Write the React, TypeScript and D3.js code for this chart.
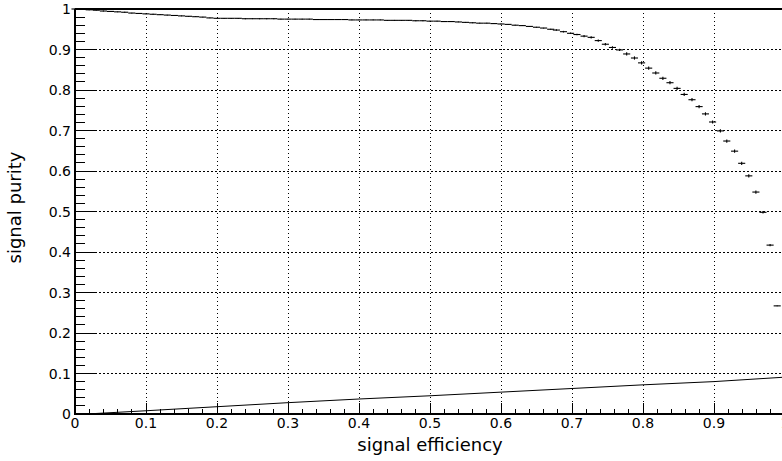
import React from 'react';
import * as d3 from 'd3';

// upper curve: purity per efficiency bin (markers with x error bars)
const UPPER_EFF = [
  0.00, 0.01, 0.02, 0.03, 0.04, 0.05, 0.06, 0.07, 0.08, 0.09,
  0.10, 0.11, 0.12, 0.13, 0.14, 0.15, 0.16, 0.17, 0.18, 0.19,
  0.20, 0.21, 0.22, 0.23, 0.24, 0.25, 0.26, 0.27, 0.28, 0.29,
  0.30, 0.31, 0.32, 0.33, 0.34, 0.35, 0.36, 0.37, 0.38, 0.39,
  0.40, 0.41, 0.42, 0.43, 0.44, 0.45, 0.46, 0.47, 0.48, 0.49,
  0.50, 0.51, 0.52, 0.53, 0.54, 0.55, 0.56, 0.57, 0.58, 0.59,
  0.60, 0.61, 0.62, 0.63, 0.64, 0.65, 0.66, 0.67,
  0.678, 0.688, 0.698, 0.707, 0.717, 0.727, 0.737, 0.747, 0.757, 0.767,
  0.777, 0.788, 0.798, 0.808, 0.818, 0.828, 0.838, 0.848, 0.858, 0.869,
  0.879, 0.888, 0.898, 0.909, 0.918, 0.929, 0.939, 0.949, 0.959, 0.969,
  0.979, 0.989,
];
const UPPER_PURITY = [
  1.000, 0.999, 0.998, 0.997, 0.995, 0.994, 0.993, 0.992, 0.990, 0.989,
  0.988, 0.987, 0.986, 0.985, 0.984, 0.983, 0.982, 0.981, 0.980, 0.978,
  0.977, 0.977, 0.977, 0.977, 0.976, 0.976, 0.976, 0.976, 0.976, 0.975,
  0.975, 0.975, 0.975, 0.975, 0.974, 0.974, 0.974, 0.974, 0.974, 0.973,
  0.973, 0.973, 0.973, 0.973, 0.972, 0.972, 0.972, 0.972, 0.971, 0.971,
  0.970, 0.970, 0.969, 0.969, 0.968, 0.967, 0.966, 0.965, 0.965, 0.964,
  0.963, 0.962, 0.960, 0.959, 0.957, 0.955, 0.953, 0.950,
  0.948, 0.944, 0.940, 0.937, 0.933, 0.930, 0.922, 0.913, 0.905, 0.899,
  0.889, 0.879, 0.867, 0.854, 0.842, 0.829, 0.818, 0.804, 0.789, 0.776,
  0.759, 0.741, 0.721, 0.699, 0.674, 0.649, 0.619, 0.588, 0.548, 0.498,
  0.417, 0.267,
];
// vertical errors (purity units): tiny on the plateau, visible on the tail
const UPPER_ERR = [
  0.001, 0.001, 0.001, 0.001, 0.001, 0.001, 0.001, 0.001, 0.001, 0.001,
  0.001, 0.001, 0.001, 0.001, 0.001, 0.001, 0.001, 0.001, 0.001, 0.001,
  0.001, 0.001, 0.001, 0.001, 0.001, 0.001, 0.001, 0.001, 0.001, 0.001,
  0.001, 0.001, 0.001, 0.001, 0.001, 0.001, 0.001, 0.001, 0.001, 0.001,
  0.001, 0.001, 0.001, 0.001, 0.001, 0.001, 0.001, 0.001, 0.001, 0.001,
  0.001, 0.001, 0.001, 0.001, 0.001, 0.001, 0.001, 0.001, 0.001, 0.001,
  0.001, 0.001, 0.001, 0.001, 0.001, 0.001, 0.001, 0.001,
  0.002, 0.002, 0.002, 0.002, 0.003, 0.003, 0.003, 0.003, 0.003, 0.003,
  0.004, 0.004, 0.004, 0.004, 0.004, 0.004, 0.004, 0.004, 0.004, 0.004,
  0.004, 0.004, 0.004, 0.004, 0.004, 0.004, 0.004, 0.004, 0.004, 0.003,
  0.003, 0.001,
];

// lower curve
const LOWER_EFF = [0, 0.016, 0.1, 0.2, 0.3, 0.4, 0.5, 0.6, 0.7, 0.8, 0.9, 1.0];
const LOWER_VAL = [0, 0.0, 0.008, 0.018, 0.028, 0.037, 0.045, 0.054, 0.063, 0.072, 0.080, 0.091];

const MAJOR_TICKS = [0, 0.1, 0.2, 0.3, 0.4, 0.5, 0.6, 0.7, 0.8, 0.9, 1];
const TICK_LABELS = ['0', '0.1', '0.2', '0.3', '0.4', '0.5', '0.6', '0.7', '0.8', '0.9', '1'];

const WIDTH = 782;
const HEIGHT = 461;
const LEFT = 75;
const RIGHT = 785;
const TOP = 9;
const BOTTOM = 414;
const BIN_HALF = 0.005;
const FONT = 'DejaVu Sans, sans-serif';

const App = () => {
  const x = d3.scaleLinear().domain([0, 1]).range([LEFT, RIGHT]);
  const y = d3.scaleLinear().domain([0, 1]).range([BOTTOM, TOP]);

  const minor = d3.range(0, 51).map(i => i / 50);

  const lowerLine = d3.line<number>()
    .x((d, i) => x(LOWER_EFF[i]))
    .y(d => y(d))(LOWER_VAL);

  return (
    <svg
      width={WIDTH}
      height={HEIGHT}
      style={{ position: 'absolute', left: 0, top: 0, background: '#fff' }}
    >
      {/* grid */}
      <g stroke="#000" strokeWidth={1} strokeDasharray="1.5 2.5" shapeRendering="crispEdges">
        {MAJOR_TICKS.map(t => (
          <line key={`gx${t}`} x1={x(t)} x2={x(t)} y1={y(0)} y2={y(1)} />
        ))}
        {MAJOR_TICKS.map(t => (
          <line key={`gy${t}`} x1={x(0)} x2={x(1)} y1={y(t)} y2={y(t)} />
        ))}
      </g>

      {/* lower curve */}
      <path d={lowerLine || ''} fill="none" stroke="#000" strokeWidth={1} />

      {/* upper curve markers */}
      <g stroke="#000" strokeWidth={1.1}>
        {UPPER_PURITY.map((p, i) => (
          <g key={i}>
            <line
              x1={x(UPPER_EFF[i] - BIN_HALF)}
              x2={x(UPPER_EFF[i] + BIN_HALF)}
              y1={y(p)}
              y2={y(p)}
            />
            <line
              x1={x(UPPER_EFF[i])}
              x2={x(UPPER_EFF[i])}
              y1={y(p + UPPER_ERR[i])}
              y2={y(p - UPPER_ERR[i])}
            />
          </g>
        ))}
      </g>

      {/* frame */}
      <g stroke="#000" fill="none" shapeRendering="crispEdges">
        <line x1={x(0)} x2={x(1)} y1={y(1)} y2={y(1)} strokeWidth={1.5} />
        <line x1={x(1)} x2={x(1)} y1={y(0)} y2={y(1)} strokeWidth={1.5} />
        <line x1={x(0)} x2={x(0)} y1={y(0) + 1} y2={y(1)} strokeWidth={2} />
        <line x1={x(0)} x2={x(1)} y1={y(0)} y2={y(0)} strokeWidth={2} />
      </g>

      {/* ticks */}
      <g stroke="#000" strokeWidth={1} shapeRendering="crispEdges">
        {minor.map((t, i) => {
          const major = i % 5 === 0;
          return (
            <g key={`t${i}`}>
              <line x1={x(t)} x2={x(t)} y1={y(0)} y2={y(0) - (major ? 11 : 5.5)} />
              <line x1={x(0)} x2={x(0) + (major ? 20 : 10)} y1={y(t)} y2={y(t)} />
            </g>
          );
        })}
      </g>

      {/* tick labels */}
      <g fontFamily={FONT} fontSize={14} fill="#000">
        {MAJOR_TICKS.map((t, i) => (
          <text key={`xl${t}`} x={x(t)} y={y(0) + 14} textAnchor="middle">
            {TICK_LABELS[i]}
          </text>
        ))}
        {MAJOR_TICKS.map((t, i) => (
          <text key={`yl${t}`} x={x(0) - 4} y={y(t) + 5} textAnchor="end">
            {TICK_LABELS[i]}
          </text>
        ))}
      </g>

      {/* axis titles */}
      <g fontFamily={FONT} fontSize={18} fill="#000">
        <text x={(x(0) + x(1)) / 2} y={451} textAnchor="middle">
          signal efficiency
        </text>
        <text
          transform={`translate(21, ${(y(0) + y(1)) / 2 - 4}) rotate(-90)`}
          textAnchor="middle"
        >
          signal purity
        </text>
      </g>
    </svg>
  );
};

export default App;
